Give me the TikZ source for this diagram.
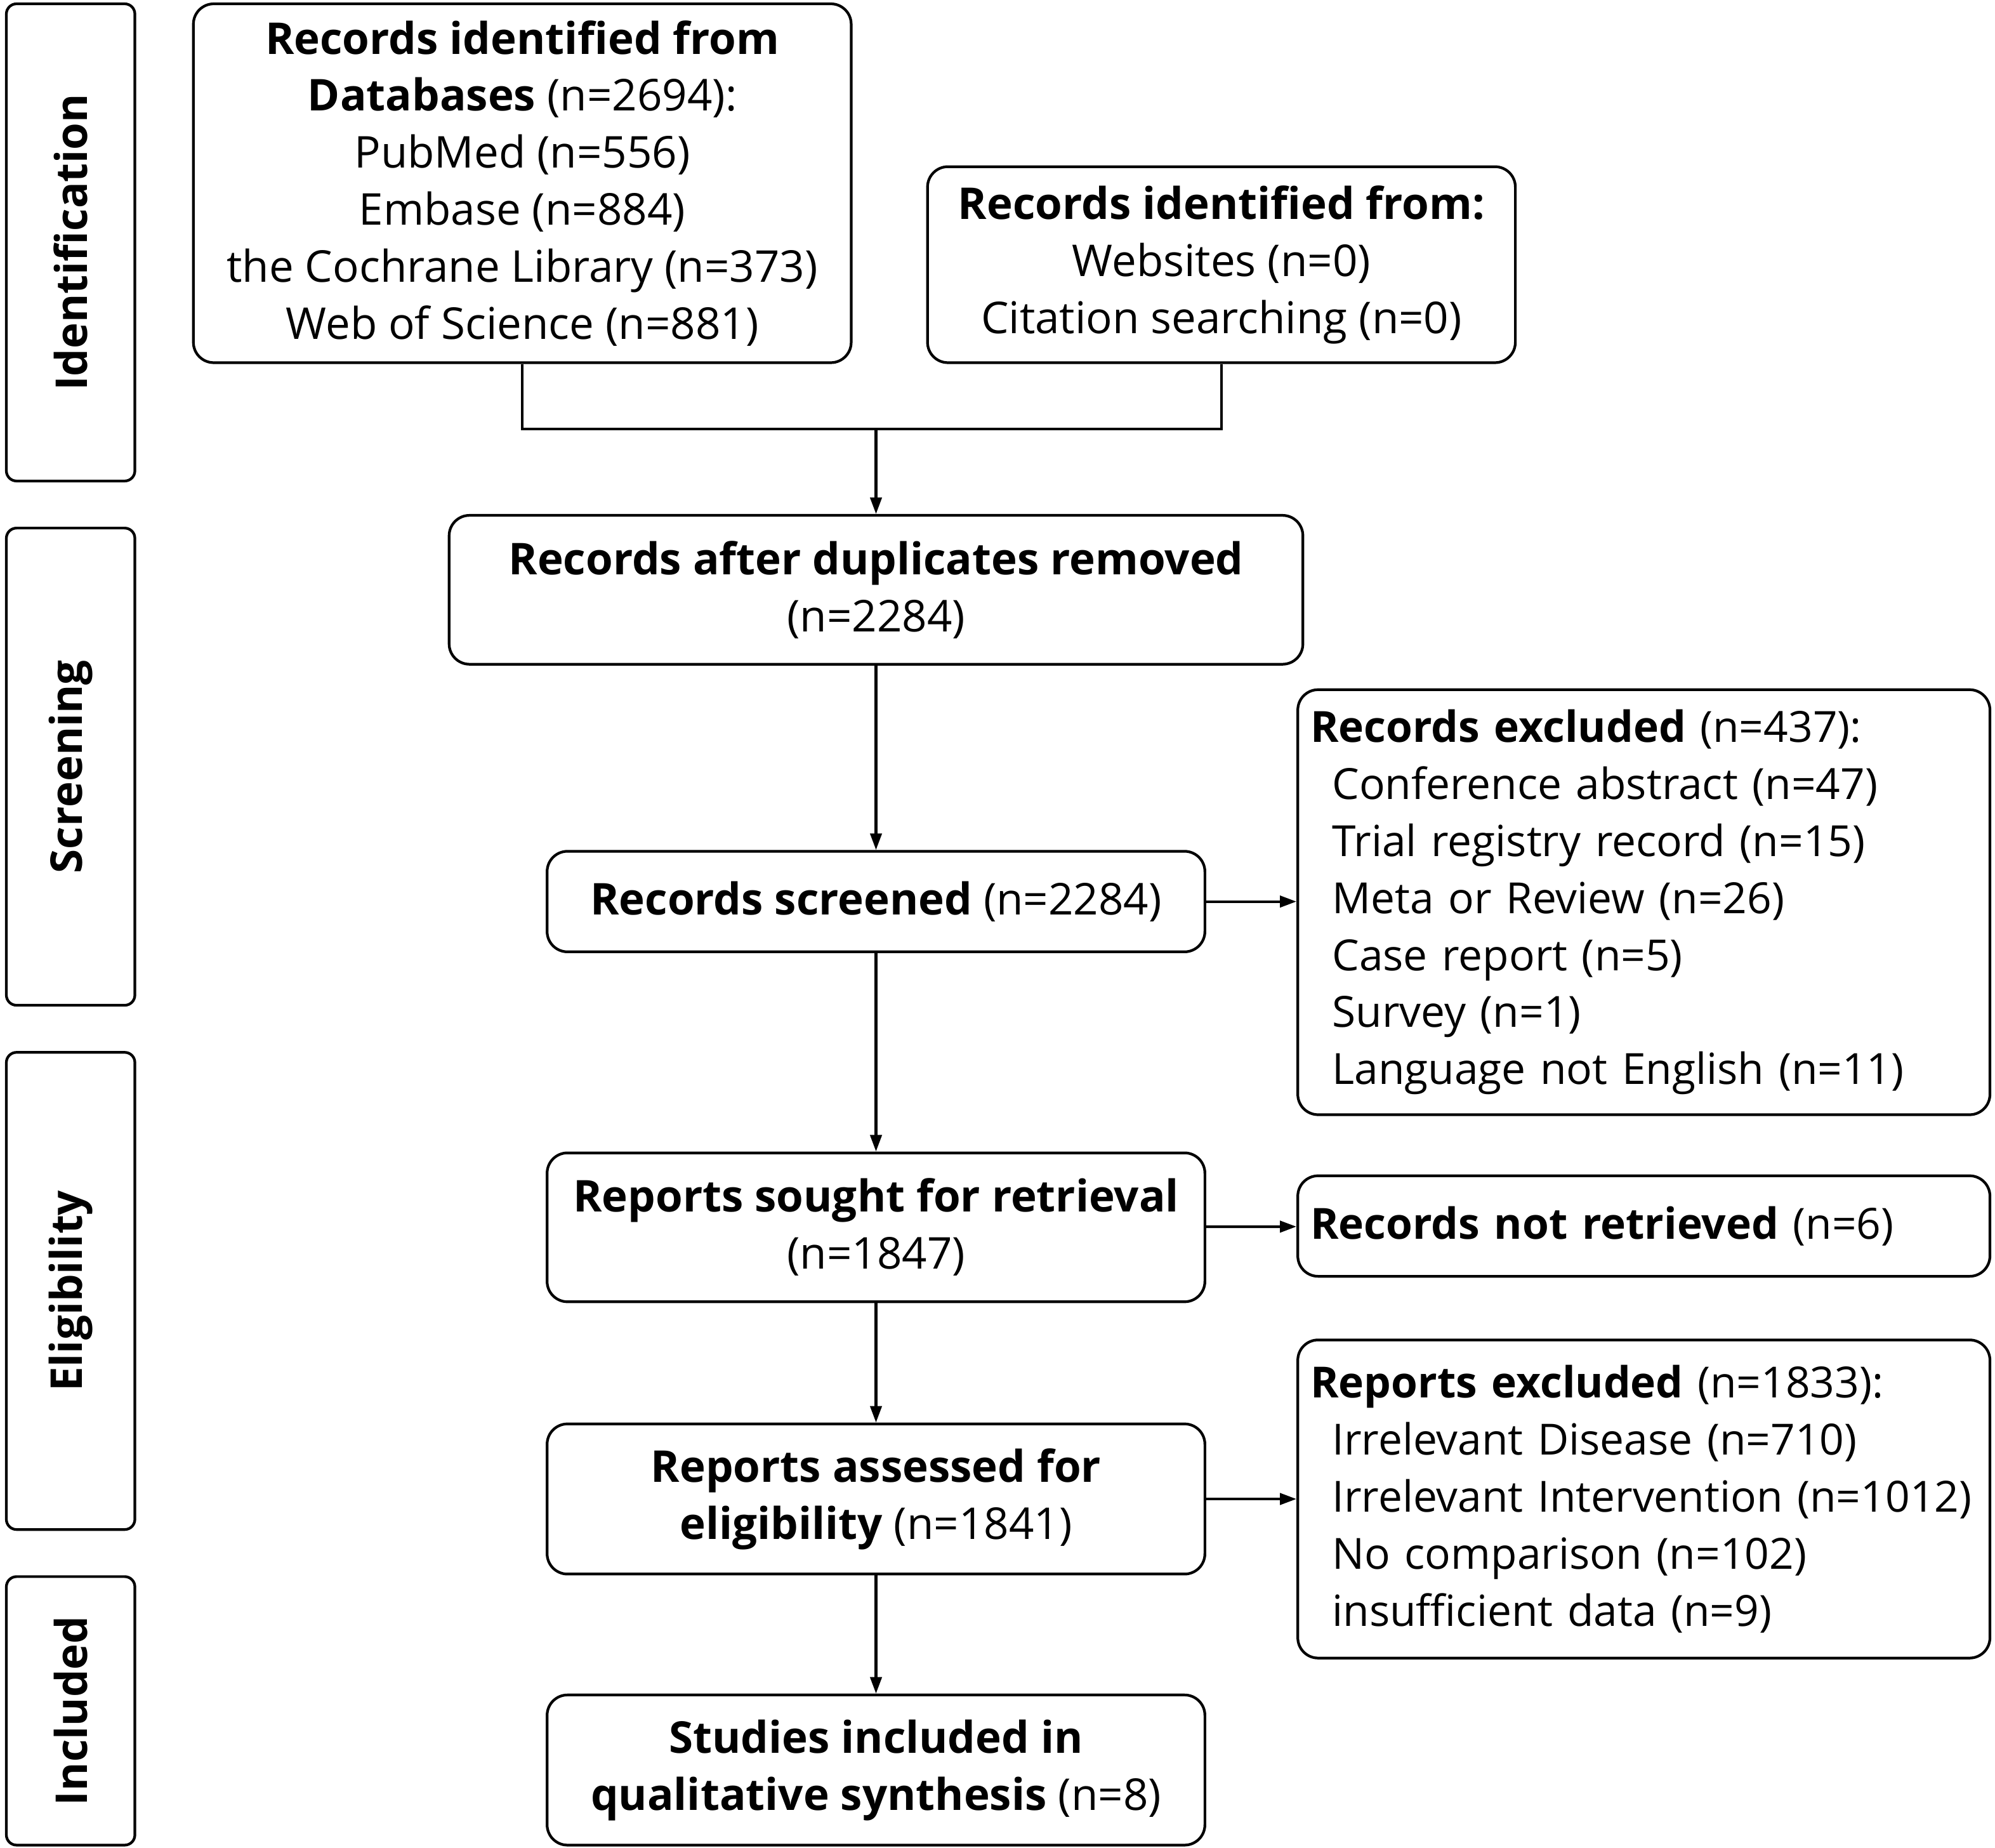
\documentclass[tikz,border=0pt]{standalone}
\usepackage{fontspec}
\setmainfont{Open Sans}
\usepackage{tikz}
\usetikzlibrary{arrows.meta}

\newcommand{\flowfont}{\fontsize{9.8}{12.75}\selectfont}
\newcommand{\listfont}{\fontsize{9.6}{12.75}\selectfont}

\begin{document}
\begin{tikzpicture}[
		box/.style = {draw, rectangle, rounded corners = 1.6mm, line width = 0.6pt, inner sep = 1mm, align = center, font = \flowfont},
		listbox/.style = {box, align = left, text width = 5.24cm, font = \listfont},
		stage/.style = {draw, rectangle, rounded corners = 0.8mm, line width = 0.6pt, rotate = 90, minimum height = 1.01cm, inner sep = 0pt, font = \flowfont\bfseries},
		flow/.style = {-{Triangle[length = 1.3mm, width = 0.9mm]}, line width = 0.6pt},
	]
	\useasboundingbox (0,0) rectangle (15.68,-14.52);

	\node[stage, minimum width = 3.75cm] at (0.555,-1.905) (ident) {Identification};
	\node[stage, minimum width = 3.75cm] at (0.555,-6.025) (screen) {Screening};
	\node[stage, minimum width = 3.75cm] at (0.555,-10.145) (elig) {Eligibility};
	\node[stage, minimum width = 2.11cm] at (0.555,-13.445) (incl) {Included};

	\node[box, minimum width = 5.17cm, minimum height = 2.82cm] at (4.105,-1.44) (db) {\textbf{Records identified from}\\ \textbf{Databases} (n=2694):\\ PubMed (n=556)\\ Embase (n=884)\\ the Cochrane Library (n=373)\\ Web of Science (n=881)};
	\node[box, minimum width = 4.62cm, minimum height = 1.54cm] at (9.60,-2.08) (other) {\textbf{Records identified from:}\\ Websites (n=0)\\ Citation searching (n=0)};
	\node[box, minimum width = 6.71cm, minimum height = 1.17cm] at (6.885,-4.635) (dedup) {\textbf{Records after duplicates removed}\\ (n=2284)};
	\node[box, minimum width = 5.17cm, minimum height = 0.79cm] at (6.885,-7.085) (screened) {\textbf{Records screened} (n=2284)};
	\node[listbox, minimum height = 3.34cm] at (12.92,-7.09) (recexcl) {\textbf{Records excluded} (n=437):\\
		\hspace*{1.7mm}Conference abstract (n=47)\\
		\hspace*{1.7mm}Trial registry record (n=15)\\
		\hspace*{1.7mm}Meta or Review (n=26)\\
		\hspace*{1.7mm}Case report (n=5)\\
		\hspace*{1.7mm}Survey (n=1)\\
		\hspace*{1.7mm}Language not English (n=11)};
	\node[box, minimum width = 5.17cm, minimum height = 1.17cm] at (6.885,-9.645) (sought) {\textbf{Reports sought for retrieval}\\ (n=1847)};
	\node[listbox, minimum height = 0.79cm] at (12.92,-9.635) (notret) {\textbf{Records not retrieved} (n=6)};
	\node[box, minimum width = 5.17cm, minimum height = 1.18cm] at (6.885,-11.78) (assessed) {\textbf{Reports assessed for}\\ \textbf{eligibility} (n=1841)};
	\node[listbox, minimum height = 2.5cm] at (12.92,-11.78) (repexcl) {\textbf{Reports excluded} (n=1833):\\
		\hspace*{1.7mm}Irrelevant Disease (n=710)\\
		\hspace*{1.7mm}\mbox{Irrelevant Intervention (n=1012)}\\
		\hspace*{1.7mm}No comparison (n=102)\\
		\hspace*{1.7mm}insufficient data (n=9)};
	\node[box, minimum width = 5.17cm, minimum height = 1.18cm] at (6.885,-13.91) (included) {\textbf{Studies included in}\\ \textbf{qualitative synthesis} (n=8)};

	\coordinate (merge) at (6.885,-3.37);
	\draw[line width = 0.6pt] (db.south) |- (merge) -| (other.south);
	\draw[flow] (merge) to (dedup.north);
	\draw[flow] (dedup) to (screened);
	\draw[flow] (screened) to (sought);
	\draw[flow] (sought) to (assessed);
	\draw[flow] (assessed) to (included);
	\draw[flow] (screened) to (recexcl.west |- screened);
	\draw[flow] (sought) to (notret);
	\draw[flow] (assessed) to (repexcl);
\end{tikzpicture}
\end{document}
